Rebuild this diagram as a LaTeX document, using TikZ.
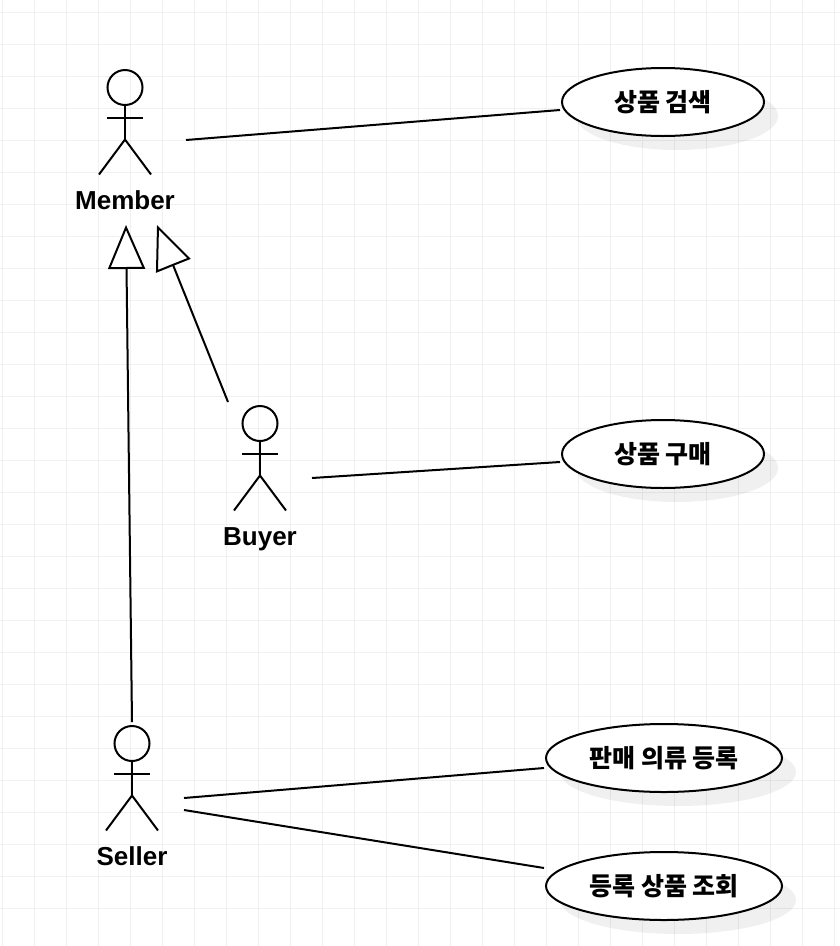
\documentclass[tikz,border=0pt]{standalone}
\usepackage{fontspec}
\setmainfont{Liberation Sans}
\newfontfamily\krfont{Noto Sans CJK KR}
\usetikzlibrary{arrows.meta,shadows,shapes.geometric}
\definecolor{gridgray}{HTML}{F0F0F0}
\tikzset{
	actorline/.style={line width=2pt},
	actorlabel/.style={font=\fontsize{26}{30}\selectfont\bfseries,anchor=base},
	usecase/.style={ellipse,draw,line width=2pt,fill=white,inner sep=0pt,
		minimum height=68pt,font=\krfont\fontsize{25}{30}\selectfont\bfseries,
		drop shadow={shadow xshift=14pt,shadow yshift=-14pt,fill=black,opacity=0.06}},
	assoc/.style={line width=2pt},
	generalize/.style={line width=2pt,-{Triangle[fill=white,length=44pt,width=37pt]}},
	pics/actor/.style={code={
		\node[circle,draw,line width=2pt,minimum size=35pt,inner sep=0pt,outer sep=0pt] (-head) at (0,0) {};
		\draw[actorline] (-head.south) -- (0,52);
		\draw[actorline] (-18,30) -- (18,30);
		\draw[actorline] (-26,87) -- (0,52) -- (26,87);
		\node[actorlabel] (-label) at (0,121.5) {#1};
	}},
}
\begin{document}
\begin{tikzpicture}[x=1pt,y=-1pt]
	\useasboundingbox (0,0) rectangle (840,946);
	% grid
	\foreach \gx in {2.5,34.5,...,835}
		\draw[gridgray,line width=1pt] (\gx,0) -- (\gx,946);
	\foreach \gy in {12.5,44.5,...,940}
		\draw[gridgray,line width=1pt] (0,\gy) -- (840,\gy);
	% actors
	\pic (member) at (125,87.5) {actor=Member};
	\pic (buyer) at (260,423.5) {actor=Buyer};
	\pic (seller) at (132,743.5) {actor=Seller};
	% use cases
	\node[usecase,minimum width=202pt] (search) at (663,102) {상품 검색};
	\node[usecase,minimum width=202pt] (purchase) at (663,454) {상품 구매};
	\node[usecase,minimum width=236pt] (register) at (664,758) {판매 의류 등록};
	\node[usecase,minimum width=236pt] (lookup) at (664,886) {등록 상품 조회};
	% free ends of the connectors
	\coordinate (memberout) at (186,140);
	\coordinate (searchin) at (560,110);
	\coordinate (buyerout) at (312,478);
	\coordinate (purchasein) at (560,462);
	\coordinate (sellerouta) at (184,798);
	\coordinate (registerin) at (544,768);
	\coordinate (selleroutb) at (184,810);
	\coordinate (lookupin) at (544,868);
	\coordinate (sellertop) at (132,722);
	\coordinate (membertipa) at (126,225);
	\coordinate (buyertop) at (228,402);
	\coordinate (membertipb) at (157,225);
	% associations
	\draw[assoc] (memberout) -- (searchin);
	\draw[assoc] (buyerout) -- (purchasein);
	\draw[assoc] (sellerouta) -- (registerin);
	\draw[assoc] (selleroutb) -- (lookupin);
	% generalizations
	\draw[generalize] (sellertop) -- (membertipa);
	\draw[generalize] (buyertop) -- (membertipb);
\end{tikzpicture}
\end{document}
